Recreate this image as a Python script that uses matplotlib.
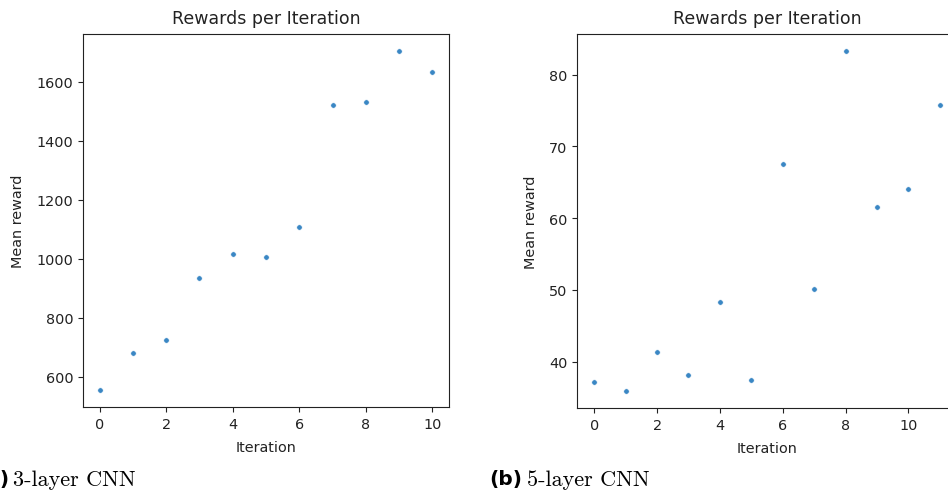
import matplotlib
matplotlib.use("Agg")
import matplotlib.pyplot as plt

# 3-layer CNN
iters_a = [0, 1, 2, 3, 4, 5, 6, 7, 8, 9, 10]
reward_a = [555, 681, 726, 934, 1017, 1006, 1107, 1520, 1531, 1704, 1634]

# 5-layer CNN
iters_b = [0, 1, 2, 3, 4, 5, 6, 7, 8, 9, 10, 11]
reward_b = [37.1, 35.9, 41.3, 38.1, 48.3, 37.5, 67.5, 50.1, 83.3, 61.5, 64.0, 75.8]

W, H = 948, 502
fig = plt.figure(figsize=(W / 100, H / 100), dpi=100)


def px_axes(left, top, right, bottom):
    return fig.add_axes([left / W, 1 - bottom / H, (right - left) / W, (bottom - top) / H])


def draw(ax, x, y):
    ax.scatter(x, y, s=16, color="#3a87c4", edgecolors="white", linewidths=0.5)
    ax.set_title("Rewards per Iteration", fontsize=12.5, color="#222222", pad=8)
    ax.set_xlabel("Iteration", fontsize=10.4, color="#222222", labelpad=7)
    ax.set_ylabel("Mean reward", fontsize=10.4, color="#222222", labelpad=8)
    ax.set_xticks([0, 2, 4, 6, 8, 10])
    ax.tick_params(labelsize=10.4, colors="#222222")
    for s in ax.spines.values():
        s.set_color("#222222")


ax1 = px_axes(83, 35, 449, 408)
draw(ax1, iters_a, reward_a)

ax2 = px_axes(577, 35, 957, 409)
draw(ax2, iters_b, reward_b)

cap_y = 1 - 480 / H
fig.text(9 / W, cap_y, "(a)", ha="right", va="center", fontsize=14.5,
         fontweight="bold", family="DejaVu Sans")
fig.text(13 / W, cap_y, "3-layer CNN", ha="left", va="center", fontsize=16, family="cmr10")
fig.text(489 / W, cap_y, "(b)", ha="left", va="center", fontsize=14.5,
         fontweight="bold", family="DejaVu Sans")
fig.text(527 / W, cap_y, "5-layer CNN", ha="left", va="center", fontsize=16, family="cmr10")

fig.savefig("out.png", dpi=100)
